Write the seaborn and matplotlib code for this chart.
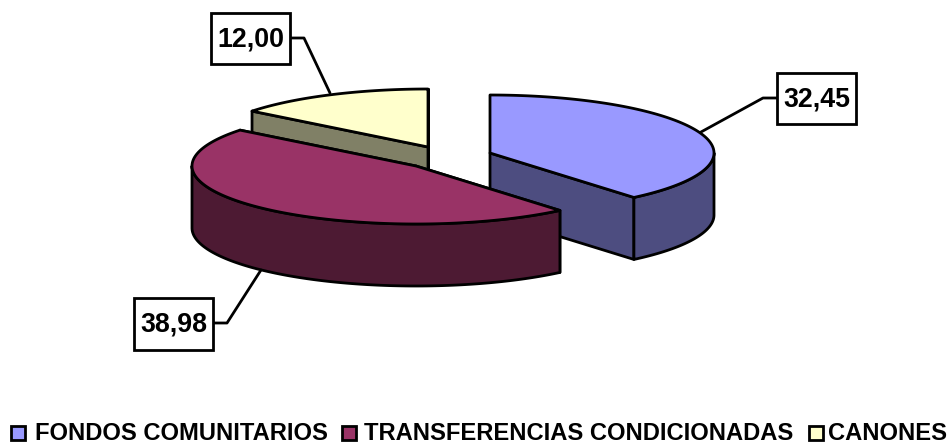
import numpy as np
import matplotlib
matplotlib.use("Agg")
import matplotlib.pyplot as plt
from matplotlib.patches import Polygon, Rectangle
import seaborn as sns

categories = ["FONDOS COMUNITARIOS", "TRANSFERENCIAS CONDICIONADAS", "CANONES"]
values = [32.45, 38.98, 12.00]
labels = ["32,45", "38,98", "12,00"]
top_colors = ["#9999FF", "#993366", "#FFFFCC"]
side_colors = ["#4D4D80", "#4D1A33", "#808066"]

sns.set_theme(style="white")
plt.rcParams["font.family"] = ["Liberation Sans", "DejaVu Sans"]

W, H = 951, 446
fig = plt.figure(figsize=(W / 100, H / 100), dpi=100)
ax = fig.add_axes([0, 0, 1, 1])
ax.set_xlim(0, W)
ax.set_ylim(H, 0)
ax.axis("off")

RX, RY, DEPTH = 224, 58, 62
centers = [(490, 153), (416, 166), (428, 147)]
palette_top = sns.color_palette(top_colors)
palette_side = sns.color_palette(side_colors)
LW = 2.0

fractions = np.array(values) / sum(values) * 2 * np.pi
starts = np.concatenate([[0], np.cumsum(fractions)[:-1]])


def arc(cx, cy, t0, t1, n=120):
    t = np.linspace(t0, t1, n)
    return np.column_stack([cx + RX * np.sin(t), cy - RY * np.cos(t)])


def draw_slice(i):
    cx, cy = centers[i]
    t0, t1 = starts[i], starts[i] + fractions[i]
    apex = np.array([cx, cy])
    down = np.array([0, DEPTH])
    kw = dict(edgecolor="black", linewidth=LW, joinstyle="round")
    a0 = arc(cx, cy, t0, t0, 1)[0]
    a1 = arc(cx, cy, t1, t1, 1)[0]
    # cut faces towards the viewer
    for edge, t in ((a0, t0), (a1, t1)):
        ax.add_patch(Polygon([apex, edge, edge + down, apex + down],
                             facecolor=palette_side[i], **kw))
    # outer wall: the visible front part of the rim
    lo, hi = max(t0, np.pi / 2), min(t1, 3 * np.pi / 2)
    if lo < hi:
        rim = arc(cx, cy, lo, hi)
        ax.add_patch(Polygon(np.vstack([rim, (rim + down)[::-1]]),
                             facecolor=palette_side[i], **kw))
    # top face
    ax.add_patch(Polygon(np.vstack([apex, arc(cx, cy, t0, t1)]),
                         facecolor=palette_top[i], **kw))


for i in (2, 0, 1):
    draw_slice(i)

# callouts: box (x0, y0, x1, y1) and leader line
boxes = [(777, 73, 856, 124), (134, 298, 213, 350), (211, 13, 290, 64)]
leaders = [[(777, 98), (763, 98), (701, 132)],
           [(213, 323), (227, 323), (261, 270)],
           [(290, 38), (304, 38), (330, 93)]]
for lab, b, l in zip(labels, boxes, leaders):
    ax.plot(*zip(*l), color="black", lw=LW, solid_joinstyle="round")
    ax.add_patch(Rectangle((b[0], b[1]), b[2] - b[0], b[3] - b[1],
                           facecolor="white", edgecolor="black", lw=LW, zorder=5))
    ax.text((b[0] + b[2]) / 2, (b[1] + b[3]) / 2 + 1, lab, ha="center", va="center",
            fontsize=19.3, fontweight="bold", color="black", zorder=6)

# legend
swatch_x = [11, 342, 809]
text_x = [35, 364, 828]
for i, cat in enumerate(categories):
    ax.add_patch(Rectangle((swatch_x[i], 426), 14, 14, facecolor=palette_top[i],
                           edgecolor="black", lw=LW))
    ax.text(text_x[i], 433.5, cat, ha="left", va="center",
            fontsize=17.1, fontweight="bold", color="black")

fig.savefig("out.png", dpi=100, facecolor="white")
